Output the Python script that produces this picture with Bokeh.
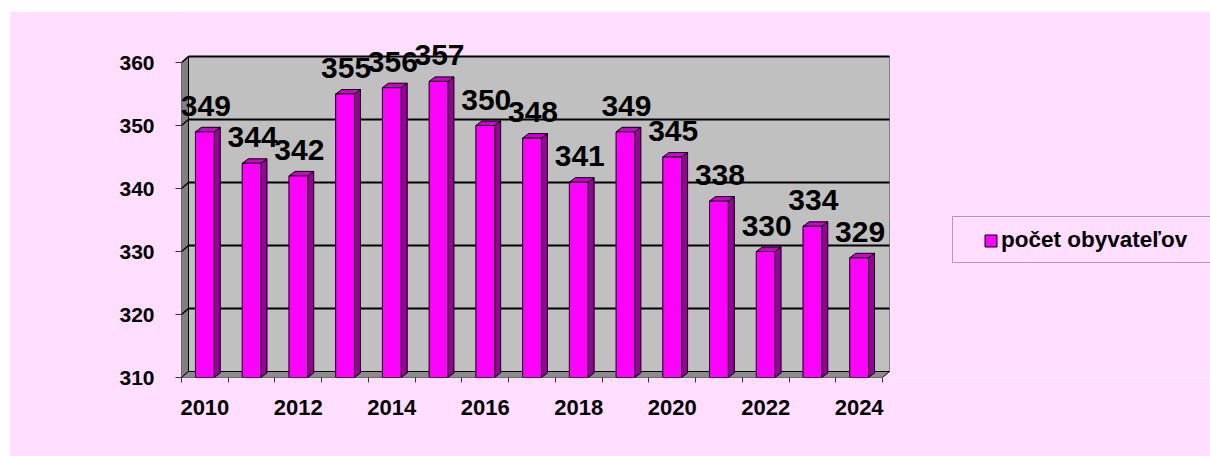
from bokeh.plotting import figure
from bokeh.models import Range1d, FixedTicker, Legend, LegendItem, BoxAnnotation, Spacer
from bokeh.layouts import column, row
from bokeh.embed import file_html
from bokeh.resources import INLINE
from bokeh.core.properties import value

# ---- data ----
years = [2010, 2011, 2012, 2013, 2014, 2015, 2016, 2017, 2018, 2019, 2020, 2021, 2022, 2023, 2024]
population = [349, 344, 342, 355, 356, 357, 350, 348, 341, 349, 345, 338, 330, 334, 329]
y_ticks = [310, 320, 330, 340, 350, 360]
x_tick_years = [2010, 2012, 2014, 2016, 2018, 2020, 2022, 2024]
series_name = "počet obyvateľov"

# ---- style ----
PINK = "#FFDEFF"
FONT = "Liberation Sans"
PX_X = 46.733   # px per category
PX_Y = 6.3      # px per unit
W, H = 1201, 445
LEFT_B, BOTTOM_B = 172, 79
FRAME_W, FRAME_H = W - LEFT_B, H - BOTTOM_B

x0 = years[0] - 0.5
x1 = years[-1] + 0.5
y0 = y_ticks[0]
y1 = y_ticks[-1]

WDX, WDY = 7 / PX_X, 6 / PX_Y       # wall depth
BDX, BDY = 6 / PX_X, 4.5 / PX_Y     # bar depth
HALF = 9.4 / PX_X                   # half bar width

p = figure(width=W, height=H,
           x_range=Range1d(x0, x0 + FRAME_W / PX_X),
           y_range=Range1d(y0, y0 + FRAME_H / PX_Y),
           output_backend="svg", toolbar_location=None,
           min_border_left=LEFT_B, min_border_right=0, min_border_top=0, min_border_bottom=BOTTOM_B,
           background_fill_color=PINK, border_fill_color=PINK, outline_line_color=None)
p.grid.visible = False

# back wall
p.quad(left=[x0 + WDX], right=[x1 + WDX], bottom=[y0 + WDY], top=[y1 + WDY],
       fill_color="#C0C0C0", line_color="#808080", line_width=1)
# left wall
p.patch([x0, x0 + WDX, x0 + WDX, x0], [y0, y0 + WDY, y1 + WDY, y1],
        fill_color="#808080", line_color="black", line_width=1)
# floor
p.patch([x0, x1, x1 + WDX, x0 + WDX], [y0, y0, y0 + WDY, y0 + WDY],
        fill_color="#8C8C8C", line_color="black", line_width=1)
# gridlines
gt = y_ticks[1:]
p.segment(x0=[x0 + WDX] * len(gt), y0=[t + WDY for t in gt], x1=[x1 + WDX] * len(gt), y1=[t + WDY for t in gt],
          line_color="black", line_width=2)
p.segment(x0=[x0] * len(gt), y0=gt, x1=[x0 + WDX] * len(gt), y1=[t + WDY for t in gt],
          line_color="black", line_width=1.5)

# bars: side, top, front
side_xs = [[x + HALF, x + HALF + BDX, x + HALF + BDX, x + HALF] for x in years]
side_ys = [[y0, y0 + BDY, v + BDY, v] for v in population]
p.patches(side_xs, side_ys, fill_color="#990099", line_color="black", line_width=1)
top_xs = [[x - HALF, x + HALF, x + HALF + BDX, x - HALF + BDX] for x in years]
top_ys = [[v, v, v + BDY, v + BDY] for v in population]
p.patches(top_xs, top_ys, fill_color="#CC00CC", line_color="black", line_width=1)
front = p.quad(left=[x - HALF for x in years], right=[x + HALF for x in years],
               bottom=[y0] * len(years), top=population,
               fill_color="#FF00FF", line_color="black", line_width=1)

# data labels
p.text(x=years, y=population, text=[str(v) for v in population],
       text_font=value(FONT), text_font_style="bold", text_font_size="30px",
       text_color="black", text_align="center", text_baseline="alphabetic",
       x_offset=1, y_offset=-26)

# axes
p.xaxis.ticker = FixedTicker(ticks=x_tick_years,
                             minor_ticks=[x - 0.5 for x in years] + [x1])
p.xaxis.axis_line_color = None
p.xaxis.major_tick_line_color = None
p.xaxis.minor_tick_in = 0
p.xaxis.minor_tick_out = 5
p.xaxis.minor_tick_line_color = "#333333"
p.xaxis.major_label_standoff = 16
p.xaxis.major_label_text_font = FONT
p.xaxis.major_label_text_font_style = "bold"
p.xaxis.major_label_text_font_size = "22px"
p.xaxis.major_label_text_color = "black"

p.yaxis.ticker = FixedTicker(ticks=y_ticks)
p.yaxis.axis_line_color = None
p.yaxis.major_tick_in = 0
p.yaxis.major_tick_out = 6
p.yaxis.major_tick_line_color = "#333333"
p.yaxis.major_label_standoff = 21
p.yaxis.major_label_text_font = FONT
p.yaxis.major_label_text_font_style = "bold"
p.yaxis.major_label_text_font_size = "21px"
p.yaxis.major_label_text_color = "black"

# legend
legend = Legend(items=[LegendItem(label=series_name, renderers=[front])],
                location=(802, 124), glyph_width=15, glyph_height=15, label_standoff=3,
                padding=0, margin=0, spacing=0, border_line_color=None, background_fill_alpha=0,
                label_text_font=FONT, label_text_font_style="bold", label_text_font_size="22.5px",
                label_text_color="black")
p.add_layout(legend)
p.add_layout(BoxAnnotation(left=943, right=1260, top=205, bottom=251,
                           left_units="canvas", right_units="canvas",
                           top_units="canvas", bottom_units="canvas",
                           fill_color=None, line_color="black", line_width=1))

layout = column(Spacer(height=11), row(Spacer(width=9), p))
open("out.html", "w").write(file_html(layout, INLINE))
